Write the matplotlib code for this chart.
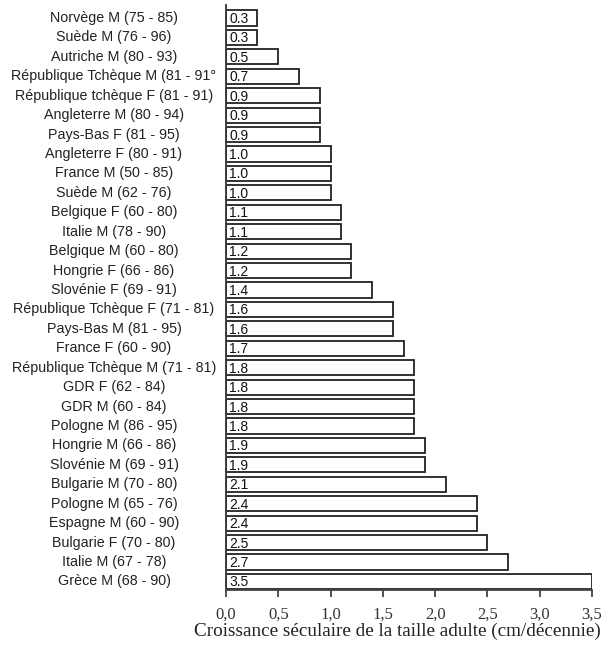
import matplotlib
matplotlib.use("Agg")
import matplotlib.pyplot as plt
from matplotlib.ticker import FixedLocator, FuncFormatter
import matplotlib.transforms as mtransforms

categories = [
    "Norvège M (75 - 85)", "Suède M (76 - 96)", "Autriche M (80 - 93)",
    "République Tchèque M (81 - 91°", "République tchèque F (81 - 91)",
    "Angleterre M (80 - 94)", "Pays-Bas F (81 - 95)", "Angleterre F (80 - 91)",
    "France M (50 - 85)", "Suède M (62 - 76)", "Belgique F (60 - 80)",
    "Italie M (78 - 90)", "Belgique M (60 - 80)", "Hongrie F (66 - 86)",
    "Slovénie F (69 - 91)", "République Tchèque F (71 - 81)",
    "Pays-Bas M (81 - 95)", "France F (60 - 90)",
    "République Tchèque M (71 - 81)", "GDR F (62 - 84)", "GDR M (60 - 84)",
    "Pologne M (86 - 95)", "Hongrie M (66 - 86)", "Slovénie M (69 - 91)",
    "Bulgarie M (70 - 80)", "Pologne M (65 - 76)", "Espagne M (60 - 90)",
    "Bulgarie F (70 - 80)", "Italie M (67 - 78)", "Grèce M (68 - 90)",
]
values = [0.3, 0.3, 0.5, 0.7, 0.9, 0.9, 0.9, 1.0, 1.0, 1.0, 1.1, 1.1, 1.2, 1.2,
          1.4, 1.6, 1.6, 1.7, 1.8, 1.8, 1.8, 1.8, 1.9, 1.9, 2.1, 2.4, 2.4, 2.5,
          2.7, 3.5]
xticks = [0.0, 0.5, 1.0, 1.5, 2.0, 2.5, 3.0, 3.5]
xlabel = "Croissance séculaire de la taille adulte (cm/décennie)"

fig = plt.figure(figsize=(6.07, 6.46), dpi=100)
ax = fig.add_axes([226 / 607, 1 - 590 / 646, 366 / 607, 585 / 646])

n = len(categories)
ypos = [n - 1 - i for i in range(n)]
ax.barh(ypos, values, height=0.78, color="white", edgecolor="#222222",
        linewidth=1.3)

for y, v in zip(ypos, values):
    ax.text(0.03, y - 0.05, f"{v:.1f}", ha="left", va="center",
            fontsize=10, family="Liberation Sans", color="#111111")

trans = mtransforms.blended_transform_factory(fig.transFigure, ax.transData)
for y, c in zip(ypos, categories):
    ax.text(114 / 607, y, c, ha="center", va="center", transform=trans,
            fontsize=10.3, family="Liberation Sans", color="#222222")

ax.set_xlim(0, 3.5)
ax.set_ylim(-0.44, n - 1 + 0.67)
ax.set_yticks([])
ax.xaxis.set_major_locator(FixedLocator(xticks))
ax.xaxis.set_major_formatter(FuncFormatter(lambda v, p: f"{v:.1f}".replace(".", ",")))
ax.tick_params(axis="x", direction="out", length=5, width=1.3, color="#444444",
               labelsize=12, pad=7, labelcolor="#333333")
for lab in ax.get_xticklabels():
    lab.set_family("Liberation Serif")
ax.set_xlabel(xlabel, family="Liberation Serif", fontsize=13.8, labelpad=0,
              color="#222222")
ax.xaxis.label.set_x((397 - 226) / 366)
for s in ["top", "right"]:
    ax.spines[s].set_visible(False)
ax.spines["left"].set_linewidth(1.3)
ax.spines["bottom"].set_linewidth(1.3)
ax.spines["left"].set_color("#333333")
ax.spines["bottom"].set_color("#444444")

fig.savefig("out.png", dpi=100)
